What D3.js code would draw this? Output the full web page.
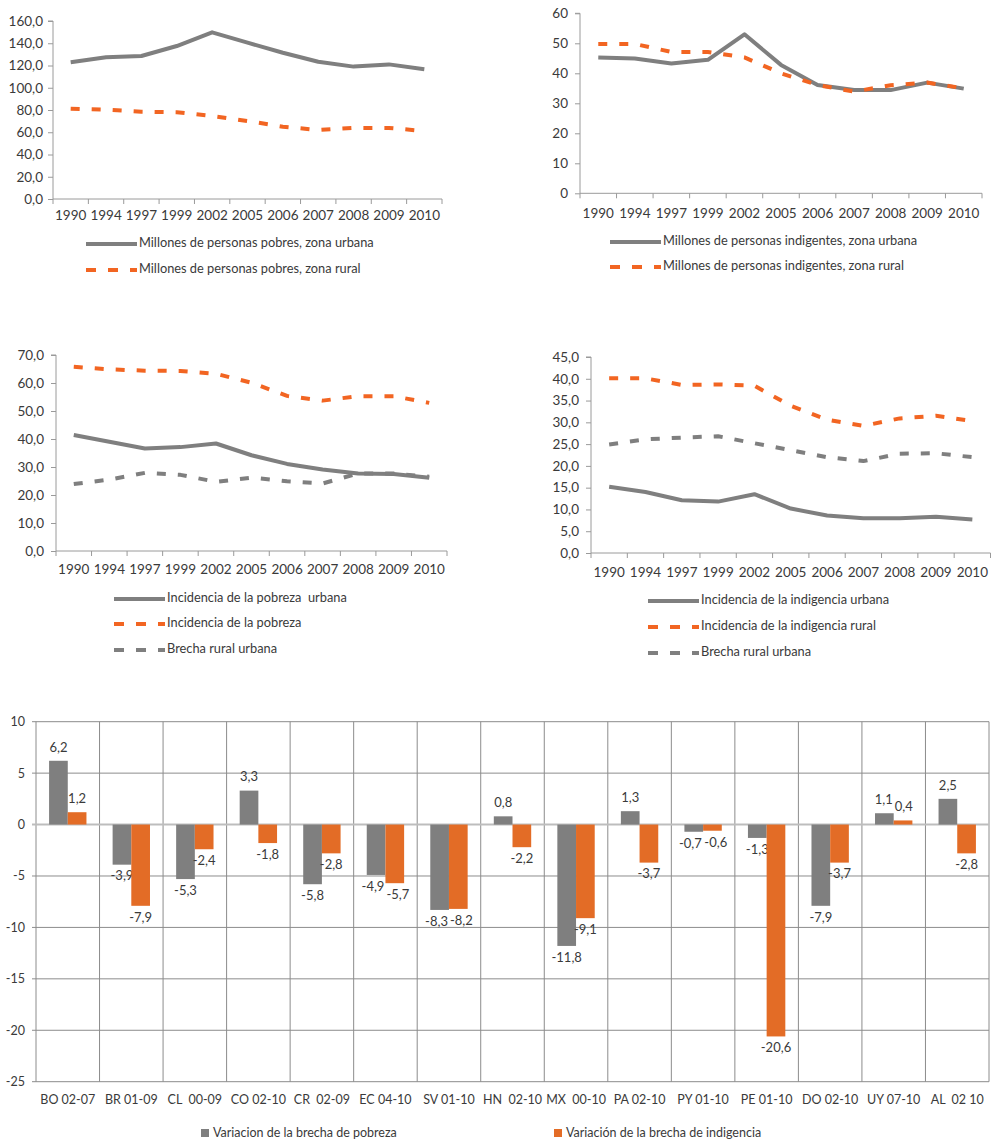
<!DOCTYPE html>
<html><head><meta charset="utf-8">
<script src="https://cdn.jsdelivr.net/npm/d3@7"></script>
<style>
html,body{margin:0;padding:0;background:#fff;}
svg{display:block;font-family:Lato,"Open Sans",sans-serif;}
text{fill:#3a3a3a;white-space:pre;}
</style></head><body>
<svg id="c" width="991" height="1141"></svg>
<script>
// ---------- DATA ----------
const years = ["1990","1994","1997","1999","2002","2005","2006","2007","2008","2009","2010"];

const pobresUrbana = [123.0,127.4,128.5,137.5,149.8,140.5,131.5,123.4,119.0,121.0,116.6];
const pobresRural  = [81.2,80.3,78.5,78.0,74.6,70.1,65.0,62.0,63.9,63.9,61.1];

const indigentesUrbana = [45.3,44.9,43.3,44.5,53.0,42.8,36.1,34.4,34.4,36.9,34.9];
const indigentesRural  = [49.8,49.8,47.1,47.1,45.3,40.0,36.1,33.9,36.0,36.9,35.0];

const incPobrezaUrbana = [41.4,39.0,36.6,37.1,38.4,34.2,31.1,29.1,27.7,27.5,26.2];
const incPobrezaRural  = [65.8,64.9,64.4,64.3,63.3,60.1,55.4,53.7,55.3,55.3,52.9];
const brechaPobreza    = [23.9,25.5,27.9,27.2,24.7,26.2,24.9,24.1,27.7,27.7,26.5];

const incIndigUrbana = [15.2,14.0,12.1,11.8,13.5,10.2,8.6,8.0,8.0,8.3,7.7];
const incIndigRural  = [40.1,40.1,38.6,38.7,38.4,33.8,30.6,29.2,30.9,31.5,30.3];
const brechaIndig    = [24.9,26.1,26.5,26.8,25.2,23.6,22.0,21.1,22.8,22.9,22.0];

const barCategories = ["BO 02-07","BR 01-09","CL  00-09","CO 02-10","CR  02-09","EC 04-10","SV 01-10","HN  02-10","MX  00-10","PA 02-10","PY 01-10","PE 01-10","DO 02-10","UY 07-10","AL  02 10"];
const varBrechaPobreza    = [6.2,-3.9,-5.3,3.3,-5.8,-4.9,-8.3,0.8,-11.8,1.3,-0.7,-1.3,-7.9,1.1,2.5];
const varBrechaIndigencia = [1.2,-7.9,-2.4,-1.8,-2.8,-5.7,-8.2,-2.2,-9.1,-3.7,-0.6,-20.6,-3.7,0.4,-2.8];
const barSeriesNames = ["Variacion de la brecha de pobreza","Variación de la brecha de indigencia"];
const barTicks = [10,5,0,-5,-10,-15,-20,-25];

// ---------- STYLE ----------
const GRAY = "#7f7f7f", ORANGE_LINE = "#f26522", ORANGE_BAR = "#e36c26", AXIS = "#9a9a9a";
const DASH = "9,12";
const comma = f => v => d3.format(f)(v).replace(".", ",").replace("\u2212", "-");

const svg = d3.select("#c");

function lineChart(cfg){
  const g = svg.append("g");
  const x = d3.scaleBand().domain(years).range([cfg.x0, cfg.x1]);
  const y = d3.scaleLinear().domain([0, cfg.ymax]).range([cfg.yb, cfg.yt]);
  // y axis
  const ya = g.append("g").attr("transform", `translate(${cfg.x0},0)`)
    .call(d3.axisLeft(y).tickValues(d3.range(0, cfg.ymax + 0.001, cfg.step))
      .tickFormat(cfg.fmt).tickSize(5).tickPadding(cfg.pad));
  ya.select(".domain").attr("stroke", AXIS).attr("d", `M-5,${cfg.yt}H0V${cfg.yb}`);
  ya.selectAll(".tick line").attr("stroke", AXIS);
  ya.selectAll("text").attr("font-size", 13.5).attr("fill", "#3a3a3a").attr("font-family", "Lato");
  // x axis
  const xa = g.append("g").attr("transform", `translate(0,${cfg.yb})`)
    .call(d3.axisBottom(x).tickSize(0).tickPadding(0));
  xa.select(".domain").attr("stroke", AXIS).attr("d", `M${cfg.x0},0H${cfg.x1}`);
  xa.selectAll("text").attr("font-size", 13.5).attr("fill", "#3a3a3a").attr("font-family", "Lato")
    .attr("dy", null).attr("y", cfg.lblDy).attr("dominant-baseline", "middle");
  const bounds = years.map(d => x(d)).concat([cfg.x1]);
  xa.selectAll("line.bt").data(bounds).join("line").attr("class","bt")
    .attr("x1", d => d).attr("x2", d => d).attr("y1", 0).attr("y2", 5).attr("stroke", AXIS);
  // series
  const line = d3.line().x((d,i) => x(years[i]) + x.bandwidth()/2).y(d => y(d));
  cfg.series.forEach(s => {
    g.append("path").datum(s.values).attr("d", line).attr("fill","none")
      .attr("stroke", s.color).attr("stroke-width", 4)
      .attr("stroke-dasharray", s.dash ? DASH : null).attr("stroke-linejoin","round");
  });
  // legend
  cfg.series.forEach((s, i) => {
    const ly = cfg.legY[i];
    g.append("line").attr("x1", cfg.legX).attr("x2", cfg.legX + 51).attr("y1", ly).attr("y2", ly)
      .attr("stroke", s.color).attr("stroke-width", 4).attr("stroke-dasharray", s.dash ? "10,12" : null);
    g.append("text").attr("x", cfg.legX + 53).attr("y", ly).attr("dominant-baseline","middle")
      .attr("font-size", 12.8).text(s.name);
  });
}

lineChart({x0:53, x1:442, yt:21, yb:199, ymax:160, step:20, fmt:comma(".1f"), pad:5, lblDy:18,
  legX:86, legY:[244,270],
  series:[{name:"Millones de personas pobres, zona urbana", values:pobresUrbana, color:GRAY},
          {name:"Millones de personas pobres, zona rural", values:pobresRural, color:ORANGE_LINE, dash:true}]});

lineChart({x0:580, x1:982, yt:13.3, yb:193.3, ymax:60, step:10, fmt:d3.format("d"), pad:7, lblDy:21,
  legX:610, legY:[242,267],
  series:[{name:"Millones de personas indigentes, zona urbana", values:indigentesUrbana, color:GRAY},
          {name:"Millones de personas indigentes, zona rural", values:indigentesRural, color:ORANGE_LINE, dash:true}]});

lineChart({x0:56, x1:447, yt:355, yb:551, ymax:70, step:10, fmt:comma(".1f"), pad:7, lblDy:20,
  legX:114, legY:[599,624,650],
  series:[{name:"Incidencia de la pobreza  urbana", values:incPobrezaUrbana, color:GRAY},
          {name:"Incidencia de la pobreza", values:incPobrezaRural, color:ORANGE_LINE, dash:true},
          {name:"Brecha rural urbana", values:brechaPobreza, color:GRAY, dash:true}]});

lineChart({x0:591, x1:990.5, yt:357, yb:553, ymax:45, step:5, fmt:comma(".1f"), pad:7, lblDy:21,
  legX:648, legY:[601,627,653],
  series:[{name:"Incidencia de la indigencia urbana", values:incIndigUrbana, color:GRAY},
          {name:"Incidencia de la indigencia rural", values:incIndigRural, color:ORANGE_LINE, dash:true},
          {name:"Brecha rural urbana", values:brechaIndig, color:GRAY, dash:true}]});

// ---------- BAR CHART ----------
(function(){
  const g = svg.append("g");
  const X0 = 36, X1 = 989, YT = 721.7, YB = 1081.7;
  const x = d3.scaleBand().domain(barCategories).range([X0, X1]);
  const x1 = d3.scaleBand().domain([0,1]).range([0, x.bandwidth()]).paddingInner(0).paddingOuter(0.7);
  const y = d3.scaleLinear().domain([-25, 10]).range([YB, YT]);
  const GRID = "#8c8c8c";
  // horizontal grid
  g.selectAll("line.hg").data(barTicks.filter(d => d !== 0)).join("line").attr("class","hg")
    .attr("x1", X0 - 4).attr("x2", X1).attr("y1", d => y(d)).attr("y2", d => y(d))
    .attr("stroke", GRID).attr("stroke-width", 1);
  // vertical grid
  const vb = barCategories.map(d => x(d)).concat([X1]);
  g.selectAll("line.vg").data(vb).join("line").attr("class","vg")
    .attr("x1", d => d).attr("x2", d => d).attr("y1", YT).attr("y2", YB)
    .attr("stroke", GRID).attr("stroke-width", 1);
  // zero line
  g.append("line").attr("x1", X0 - 4).attr("x2", X1).attr("y1", y(0)).attr("y2", y(0))
    .attr("stroke", "#bdbdbd").attr("stroke-width", 2);
  // y labels
  const ya = g.append("g").attr("transform", `translate(${X0},0)`)
    .call(d3.axisLeft(y).tickValues(barTicks).tickFormat(comma("d")).tickSize(0).tickPadding(11));
  ya.select(".domain").remove();
  ya.selectAll("text").attr("font-size", 12.5).attr("fill", "#3a3a3a").attr("font-family","Lato");
  // x labels
  const xa = g.append("g").attr("transform", `translate(0,${YB})`)
    .call(d3.axisBottom(x).tickSize(0).tickPadding(0));
  xa.select(".domain").remove();
  xa.selectAll("text").attr("font-size", 12.5).attr("fill", "#3a3a3a").attr("font-family","Lato")
    .attr("dy", null).attr("y", 19).attr("dominant-baseline","middle").style("white-space","pre");
  // bars
  const series = [varBrechaPobreza, varBrechaIndigencia];
  const colors = [GRAY, ORANGE_BAR];
  const labels = [];
  series.forEach((vals, si) => {
    const gs = g.append("g");
    gs.selectAll("rect").data(vals).join("rect")
      .attr("x", (d,i) => x(barCategories[i]) + x1(si))
      .attr("width", x1.bandwidth())
      .attr("y", d => y(Math.max(0, d)))
      .attr("height", d => Math.abs(y(d) - y(0)))
      .attr("fill", colors[si]);
    const t = gs.selectAll("text").data(vals).join("text")
      .attr("x", (d,i) => x(barCategories[i]) + x1(si) + x1.bandwidth()/2)
      .attr("y", d => d >= 0 ? y(d) - 12.5 : y(d) + 12.5)
      .attr("text-anchor","middle").attr("dominant-baseline","middle")
      .attr("font-size", 13).text(d => comma(".1f")(d));
    labels.push(t.nodes());
  });
  // nudge overlapping label pairs apart horizontally
  barCategories.forEach((c, i) => {
    const a = labels[0][i], b = labels[1][i];
    const ba = a.getBBox(), bb = b.getBBox();
    const vOverlap = Math.min(ba.y + ba.height, bb.y + bb.height) - Math.max(ba.y, bb.y);
    const hOverlap = (ba.x + ba.width) - bb.x;
    if (vOverlap > 2 && hOverlap > -1) {
      const s = (hOverlap + 2) / 2;
      a.setAttribute("x", +a.getAttribute("x") - s);
      b.setAttribute("x", +b.getAttribute("x") + s);
    }
  });
  // legend
  const leg = [{x:201, name:barSeriesNames[0], c:GRAY},{x:554, name:barSeriesNames[1], c:ORANGE_BAR}];
  leg.forEach(l => {
    g.append("rect").attr("x", l.x).attr("y", 1129).attr("width", 8).attr("height", 8).attr("fill", l.c);
    g.append("text").attr("x", l.x + 12).attr("y", 1133.5).attr("dominant-baseline","middle")
      .attr("font-size", 12.5).text(l.name);
  });
})();
</script>
</body></html>
